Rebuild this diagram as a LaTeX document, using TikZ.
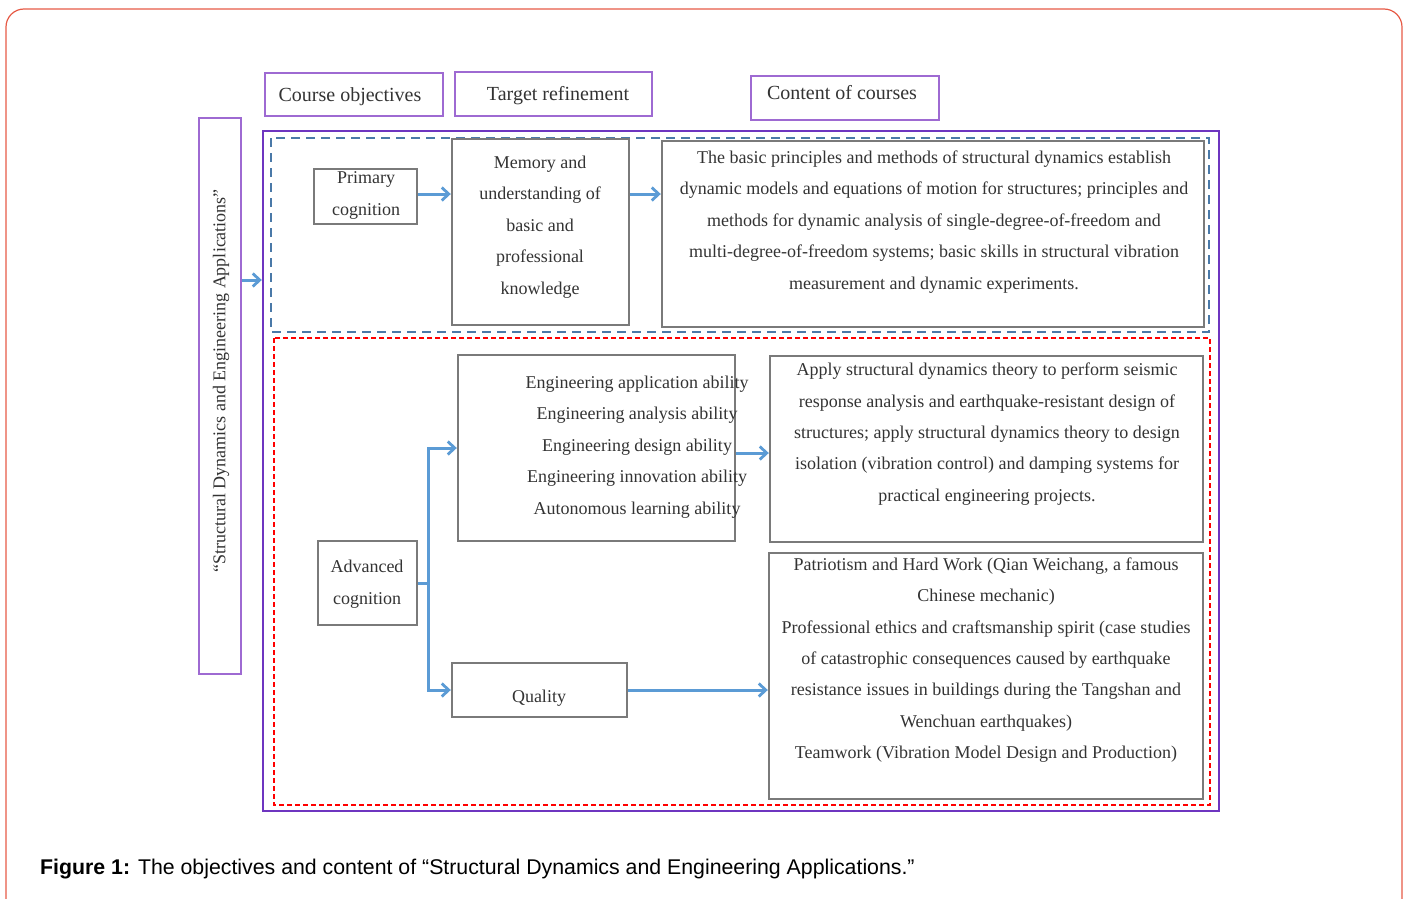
\documentclass[tikz,border=0pt]{standalone}
\usepackage{fontspec}
\setmainfont{Liberation Serif}
\newfontfamily\capfont{Liberation Sans}
\usetikzlibrary{arrows.meta}
\definecolor{lpurple}{HTML}{9E6AD2}
\definecolor{dpurple}{HTML}{6E35C0}
\definecolor{dblue}{HTML}{4A79A8}
\definecolor{abue}{HTML}{5B9BD5}
\definecolor{gbox}{HTML}{7A7A7A}
\definecolor{txt}{HTML}{333333}
\definecolor{frame}{HTML}{E65A46}
\tikzset{
  hdr/.style={draw=lpurple, line width=2.2pt, inner sep=0pt},
  gray box/.style={draw=gbox, line width=2.4pt, inner sep=0pt},
  body/.style={text=txt, align=center, inner sep=0pt, font=\fontsize{18}{31.4}\selectfont},
  hdrtxt/.style={text=txt, inner sep=0pt, font=\fontsize{20}{24}\selectfont},
  arr/.style={draw=abue, line width=3pt, -{Straight Barb[length=7pt,width=13pt,line width=2.8pt]}},
  conn/.style={draw=abue, line width=3pt}
}
\begin{document}
\begin{tikzpicture}[x=1pt,y=-1pt]
\useasboundingbox (0,0) rectangle (1405,899);
\begin{scope}
\clip (0,0) rectangle (1405,899);
\draw[frame, line width=1.2pt, rounded corners=18pt] (6,9) rectangle (1402,930);
\end{scope}

% header boxes
\node[hdr, minimum width=178pt, minimum height=43pt] (co) at (354,94.5) {};
\node[hdrtxt] (cot) at (350,97) {Course objectives};
\node[hdr, minimum width=197pt, minimum height=44pt] (tr) at (553.5,94) {};
\node[hdrtxt] (trt) at (558,96) {Target refinement};
\node[hdr, minimum width=188pt, minimum height=44pt] (cc) at (845,98) {};
\node[hdrtxt] (cct) at (842,93) {Content of courses};

% vertical title
\node[hdr, minimum width=42pt, minimum height=556pt] (vb) at (220,396) {};
\node[hdrtxt, rotate=90, font=\fontsize{18}{22}\selectfont] (vbt) at (221,381) {“Structural Dynamics and Engineering Applications”};

% big frames
\node[draw=dpurple, line width=2.4pt, minimum width=956pt, minimum height=680pt, inner sep=0pt] (big) at (741,471) {};
\draw[dblue, line width=2.6pt, dash pattern=on 9pt off 6pt] (271,138) rectangle (1209,332);
\draw[red, line width=2.6pt, dash pattern=on 5pt off 3pt] (274,338) rectangle (1210,805);

% top row
\node[gray box, minimum width=103pt, minimum height=55pt] (prim) at (365.5,196.5) {};
\node[body, font=\fontsize{18}{32}\selectfont] (primt) at (366,195) {Primary\\cognition};
\node[gray box, minimum width=177pt, minimum height=186pt] (mem) at (540.5,232) {};
\node[body] (memt) at (540,227) {Memory and\\understanding of\\basic and\\professional\\knowledge};
\node[gray box, minimum width=542pt, minimum height=186pt] (top) at (933,234) {};
\node[body] (topt) at (934,222) {The basic principles and methods of structural dynamics establish\\dynamic models and equations of motion for structures; principles and\\methods for dynamic analysis of single-degree-of-freedom and\\multi-degree-of-freedom systems; basic skills in structural vibration\\measurement and dynamic experiments.};

% lower area
\node[gray box, minimum width=277pt, minimum height=186pt] (eng) at (596.5,448) {};
\node[body] (engt) at (637,447) {Engineering application ability\\Engineering analysis ability\\Engineering design ability\\Engineering innovation ability\\Autonomous learning ability};
\node[gray box, minimum width=433pt, minimum height=186pt] (app) at (986.5,449) {};
\node[body] (appt) at (987,434) {Apply structural dynamics theory to perform seismic\\response analysis and earthquake-resistant design of\\structures; apply structural dynamics theory to design\\isolation (vibration control) and damping systems for\\practical engineering projects.};
\node[gray box, minimum width=99pt, minimum height=84pt] (adv) at (367.5,583) {};
\node[body] (advt) at (367,584) {Advanced\\cognition};
\node[gray box, minimum width=175pt, minimum height=54pt] (qual) at (539.5,690) {};
\node[body] (qualt) at (539,698) {Quality};
\node[gray box, minimum width=434pt, minimum height=246pt] (pat) at (986,676) {};
\node[body] (patt) at (986,660) {Patriotism and Hard Work (Qian Weichang, a famous\\Chinese mechanic)\\Professional ethics and craftsmanship spirit (case studies\\of catastrophic consequences caused by earthquake\\resistance issues in buildings during the Tangshan and\\Wenchuan earthquakes)\\Teamwork (Vibration Model Design and Production)};

% connectors
\coordinate (a1) at (241,280);
\draw[arr] (vb.east |- a1) -- (big.west |- a1);
\coordinate (a2) at (417,194);
\draw[arr] (prim.east |- a2) -- (mem.west |- a2);
\draw[arr] (mem.east |- a2) -- (top.west |- a2);
\coordinate (a3) at (735,453);
\draw[arr] (eng.east |- a3) -- (app.west |- a3);
\coordinate (br) at (428,583);
\draw[conn] (adv.east) -- (br);
\draw[arr] (br) |- (eng.west);
\draw[arr] (br) |- (qual.west);
\draw[arr] (qual.east) -- (qual.east -| pat.west);

% caption
\node[anchor=west, inner sep=0pt, text=black, font=\capfont\fontsize{21.3}{25}\selectfont] (cap) at (40,869) {\textbf{Figure 1:} The objectives and content of “Structural Dynamics and Engineering Applications.”};
\end{tikzpicture}
\end{document}
